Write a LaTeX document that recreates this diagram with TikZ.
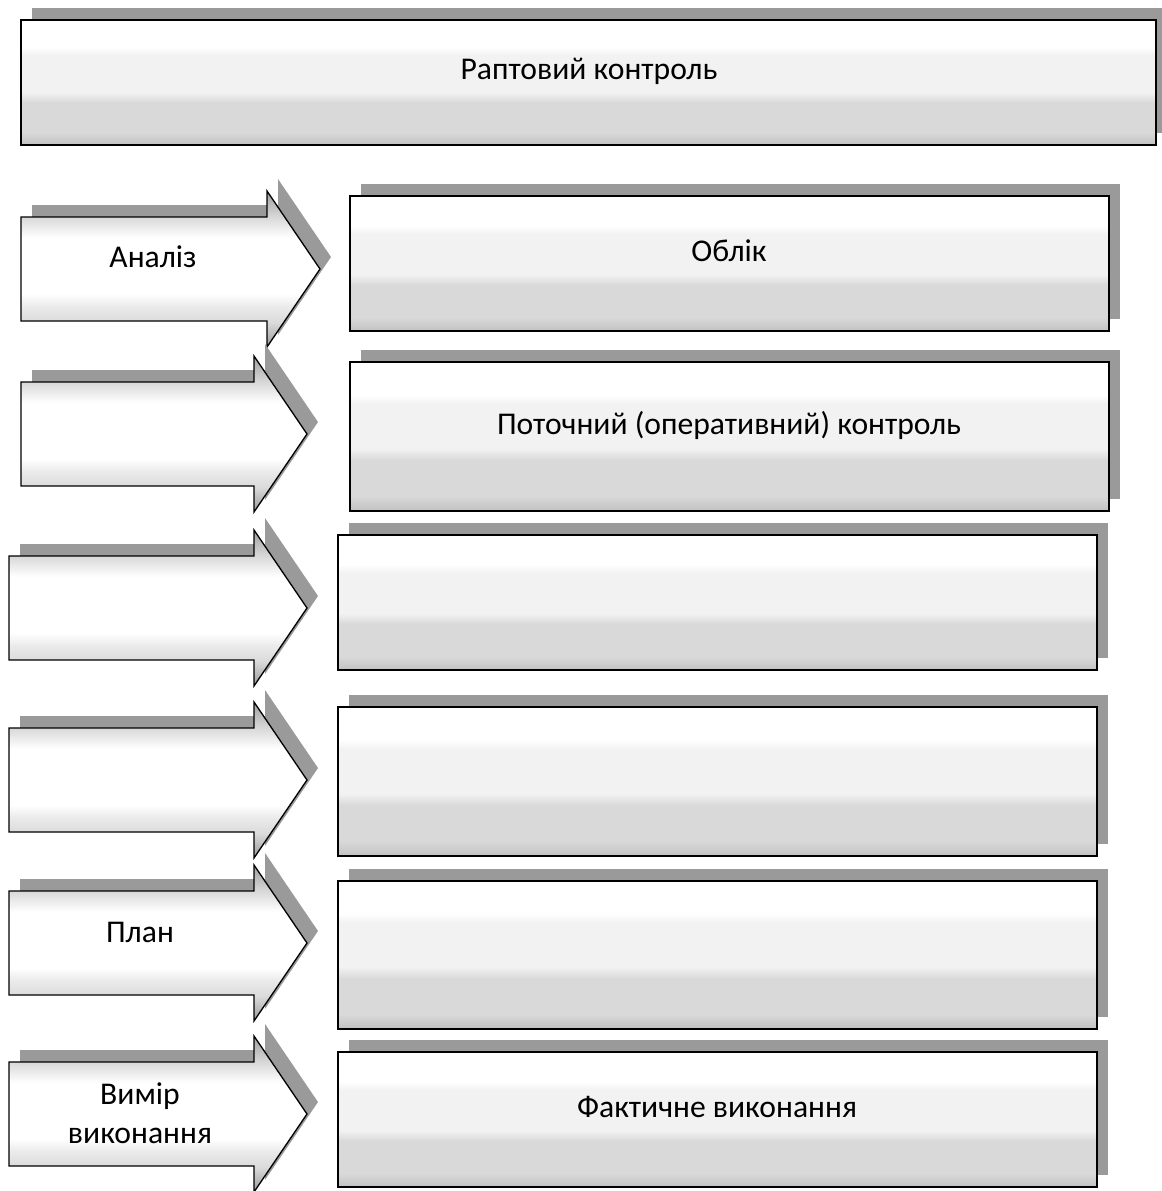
\documentclass[tikz,border=0pt]{standalone}
\usepackage{fontspec}
\setmainfont{Carlito}

\definecolor{shadowgray}{HTML}{9A9A9A}
% glossy fills, fitted to the 25bp..75bp band of the shading
\pgfdeclareverticalshading{boxfill}{100bp}{color(0bp)=(black!24); color(25bp)=(black!24); color(30bp)=(black!15); color(42bp)=(black!15); color(46bp)=(black!5); color(61bp)=(black!5); color(64bp)=(white); color(100bp)=(white)}
\pgfdeclareverticalshading{arrowfill}{100bp}{color(0bp)=(black!40); color(25bp)=(black!40); color(33bp)=(black!14); color(38bp)=(black!8); color(42bp)=(white); color(60bp)=(white); color(67bp)=(black!16); color(75bp)=(black!38); color(100bp)=(black!38)}

\tikzset{
  backdrop/.style={fill=shadowgray, shift={(11,-12)}},
  panel/.style={draw=black, line width=0.75pt, shading=boxfill},
  pointer/.style={draw=black, line width=0.75pt, line join=miter, shading=arrowfill},
  txt/.style={font=\fontsize{18}{22}\selectfont, align=center, anchor=base, inner sep=0pt}
}

\begin{document}
\begin{tikzpicture}[x=0.02cm, y=-0.02cm]
\useasboundingbox (0,0) rectangle (1161,1191);

% top box
\fill[backdrop] (21,20) rectangle (1156,145);
\draw[panel] (21,20) rectangle (1156,145);
\node[txt] (sudden) at (589,79) {Раптовий контроль};

% arrows: left end / head base / middle
\foreach \xl/\xb/\yc in {21/267/269, 21/254/434, 9/254/608, 9/254/780, 9/254/943, 9/254/1114}{
  \fill[backdrop] (\xl,\yc-52) -- (\xb,\yc-52) -- (\xb,\yc-78) -- (\xb+53,\yc)
     -- (\xb,\yc+78) -- (\xb,\yc+52) -- (\xl,\yc+52) -- cycle;
  \draw[pointer] (\xl,\yc-52) -- (\xb,\yc-52) -- (\xb,\yc-78) -- (\xb+53,\yc)
     -- (\xb,\yc+78) -- (\xb,\yc+52) -- (\xl,\yc+52) -- cycle;
}

% boxes
\foreach \xa/\ya/\xc/\yb in {350/196/1109/331, 350/362/1109/511, 338/535/1097/670,
    338/707/1097/856, 338/881/1097/1029, 338/1052/1097/1187}{
  \fill[backdrop] (\xa,\ya) rectangle (\xc,\yb);
  \draw[panel] (\xa,\ya) rectangle (\xc,\yb);
}

\node[txt] (analysis) at (153,267) {Аналіз};
\node[txt] (record) at (729,261) {Облік};
\node[txt] (current) at (729,434) {Поточний (оперативний) контроль};
\node[txt] (plan) at (140,942) {План};
\node[txt] (measure) at (140,1143) {Вимір\\виконання};
\node[txt] (actual) at (717,1117) {Фактичне виконання};
\end{tikzpicture}
\end{document}
